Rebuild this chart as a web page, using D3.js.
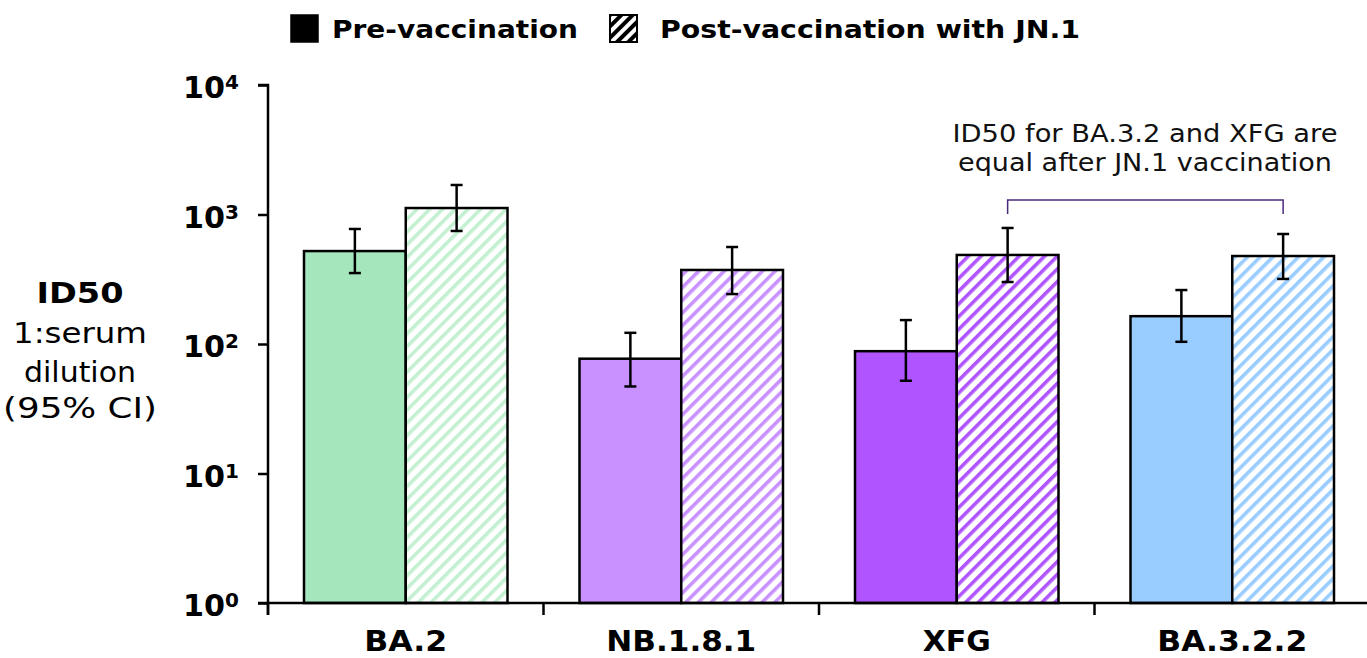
<!DOCTYPE html>
<html>
<head>
<meta charset="utf-8">
<script src="https://cdn.jsdelivr.net/npm/d3@7"></script>
<style>
  html, body { margin: 0; padding: 0; background: #fff; }
  svg { display: block; font-family: "DejaVu Sans", Verdana, sans-serif; }
</style>
</head>
<body>
<div id="chart"></div>
<script>
// ---- data ----
const variants    = ['BA.2', 'NB.1.8.1', 'XFG', 'BA.3.2.2'];
const colors      = ['#a6e6bc', '#c990ff', '#b054ff', '#99ccff'];
const hatchColors = ['#c4f0d2', '#c990ff', '#b054ff', '#99ccff'];
const preValues   = [522, 77, 88, 164];
const preLow      = [353, 47, 52, 104];
const preHigh     = [773, 122, 153, 261];
const postValues  = [1122, 373, 487, 478];
const postLow     = [746, 243, 301, 318];
const postHigh    = [1690, 561, 787, 707];
const yTicks      = [1, 10, 100, 1000, 10000];
const series      = ['Pre-vaccination', 'Post-vaccination with JN.1'];

const W = 1367, H = 658;
const margin = { top: 85, right: 0, bottom: 55, left: 268 };

const svg = d3.select('#chart').append('svg')
    .attr('width', W).attr('height', H);

// hatching patterns
const defs = svg.append('defs');
colors.forEach((c, i) => {
    const p = defs.append('pattern')
        .attr('id', 'hatch' + i)
        .attr('patternUnits', 'userSpaceOnUse')
        .attr('width', 9).attr('height', 9)
        .attr('patternTransform', 'rotate(45)');
    p.append('rect').attr('width', 9).attr('height', 9).attr('fill', '#fff');
    p.append('rect').attr('width', 3.6).attr('height', 9).attr('fill', hatchColors[i]);
});
const legendHatch = defs.append('pattern')
    .attr('id', 'hatchBlack')
    .attr('patternUnits', 'userSpaceOnUse')
    .attr('width', 8).attr('height', 8)
    .attr('patternTransform', 'rotate(45)');
legendHatch.append('rect').attr('width', 8).attr('height', 8).attr('fill', '#fff');
legendHatch.append('rect').attr('width', 4).attr('height', 8).attr('fill', '#000');

// scales
const x = d3.scaleBand()
    .domain(variants)
    .range([margin.left, margin.left + 4 * 275.5]);
const xSub = d3.scaleBand()
    .domain(['pre', 'post'])
    .range([36, x.bandwidth() - 36]);
const y = d3.scaleLog()
    .domain([1, 10000])
    .range([H - margin.bottom, margin.top]);

const g = svg.append('g');

// bars
const rows = variants.map((v, i) => ([
    { v, i, key: 'pre',  val: preValues[i],  lo: preLow[i],  hi: preHigh[i],  fill: colors[i] },
    { v, i, key: 'post', val: postValues[i], lo: postLow[i], hi: postHigh[i], fill: `url(#hatch${i})` }
])).flat();

g.selectAll('rect.bar')
    .data(rows)
    .join('rect')
    .attr('class', 'bar')
    .attr('x', d => x(d.v) + xSub(d.key))
    .attr('width', xSub.bandwidth())
    .attr('y', d => y(d.val))
    .attr('height', d => y(1) - y(d.val))
    .attr('fill', d => d.fill)
    .attr('stroke', '#000')
    .attr('stroke-width', 2.5);

// error bars
const eb = g.selectAll('g.err')
    .data(rows)
    .join('g')
    .attr('class', 'err')
    .attr('stroke', '#000')
    .attr('stroke-width', 2.5);
const cx = d => x(d.v) + xSub(d.key) + xSub.bandwidth() / 2;
eb.append('line')
    .attr('x1', cx).attr('x2', cx)
    .attr('y1', d => y(d.lo)).attr('y2', d => y(d.hi));
eb.append('line')
    .attr('x1', d => cx(d) - 6).attr('x2', d => cx(d) + 6)
    .attr('y1', d => y(d.lo)).attr('y2', d => y(d.lo));
eb.append('line')
    .attr('x1', d => cx(d) - 6).attr('x2', d => cx(d) + 6)
    .attr('y1', d => y(d.hi)).attr('y2', d => y(d.hi));

// y axis
const yAxis = svg.append('g')
    .attr('transform', `translate(${margin.left},0)`)
    .call(d3.axisLeft(y).tickValues(yTicks).tickSize(10).tickFormat(''));
yAxis.select('.domain').attr('d', `M-10,${y(10000)}H0V${y(1) + 12}`);
yAxis.selectAll('path, line').attr('stroke', '#000').attr('stroke-width', 2.5);

const yLab = svg.append('g').selectAll('text')
    .data(yTicks)
    .join('text')
    .attr('x', 183)
    .attr('y', d => y(d) + 13)
    .attr('font-size', 30)
    .attr('font-weight', 'bold')
    .attr('fill', '#000');
yLab.append('tspan').text('10')
    .attr('textLength', 42).attr('lengthAdjust', 'spacingAndGlyphs');
yLab.append('tspan')
    .attr('dy', -9)
    .attr('font-size', 20)
    .text(d => Math.round(Math.log10(d)));

// x axis
const xAxis = svg.append('g')
    .attr('transform', `translate(0,${y(1)})`)
    .call(d3.axisBottom(x).tickSize(0).tickFormat(''));
xAxis.select('.domain').attr('d', `M${margin.left - 10},0H${W}`);
xAxis.selectAll('path').attr('stroke', '#000').attr('stroke-width', 2.5);
xAxis.selectAll('line.sep')
    .data(variants)
    .join('line')
    .attr('class', 'sep')
    .attr('x1', d => x(d)).attr('x2', d => x(d))
    .attr('y1', 0).attr('y2', 12)
    .attr('stroke', '#000').attr('stroke-width', 2.5);
const xLabWidth = { 'BA.2': 83, 'NB.1.8.1': 150, 'XFG': 68, 'BA.3.2.2': 150 };
svg.append('g').selectAll('text')
    .data(variants)
    .join('text')
    .attr('x', d => x(d) + x.bandwidth() / 2)
    .attr('y', 651)
    .attr('text-anchor', 'middle')
    .attr('font-size', 28)
    .attr('font-weight', 'bold')
    .attr('fill', '#000')
    .attr('textLength', d => xLabWidth[d])
    .attr('lengthAdjust', 'spacingAndGlyphs')
    .text(d => d);

// y title
const yTitle = svg.append('g')
    .attr('font-size', 29)
    .attr('fill', '#000');
[['ID50', 303, 'bold', 87], ['1:serum', 343, 'normal', 134],
 ['dilution', 382, 'normal', 112], ['(95% CI)', 418, 'normal', 154]]
    .forEach(([t, yy, w, len]) => {
        yTitle.append('text')
            .attr('x', 80).attr('y', yy)
            .attr('text-anchor', 'middle')
            .attr('font-weight', w)
            .attr('textLength', len)
            .attr('lengthAdjust', 'spacingAndGlyphs')
            .text(t);
    });

// legend
const leg = svg.append('g').attr('font-size', 25).attr('font-weight', 'bold');
leg.append('rect').attr('x', 291).attr('y', 15).attr('width', 27).attr('height', 27)
    .attr('fill', '#000').attr('stroke', '#000').attr('stroke-width', 1.5);
leg.append('text').attr('x', 332).attr('y', 38)
    .attr('textLength', 246).attr('lengthAdjust', 'spacingAndGlyphs')
    .text(series[0]);
leg.append('rect').attr('x', 610).attr('y', 15).attr('width', 27).attr('height', 27)
    .attr('fill', 'url(#hatchBlack)').attr('stroke', '#000').attr('stroke-width', 2);
leg.append('text').attr('x', 660).attr('y', 38)
    .attr('textLength', 420).attr('lengthAdjust', 'spacingAndGlyphs')
    .text(series[1]);

// annotation
const ann = svg.append('g')
    .attr('font-size', 25)
    .attr('fill', '#111');
[['ID50 for BA.3.2 and XFG are', 142, 385], ['equal after JN.1 vaccination', 171, 374]]
    .forEach(([t, yy, len]) => {
        ann.append('text')
            .attr('x', 1145).attr('y', yy)
            .attr('text-anchor', 'middle')
            .attr('textLength', len)
            .attr('lengthAdjust', 'spacingAndGlyphs')
            .text(t);
    });

const bx1 = x('XFG') + xSub('post') + xSub.bandwidth() / 2;
const bx2 = x('BA.3.2.2') + xSub('post') + xSub.bandwidth() / 2;
svg.append('path')
    .attr('d', `M${bx1},214V200H${bx2}V214`)
    .attr('fill', 'none')
    .attr('stroke', '#4b2a7a')
    .attr('stroke-width', 1.5);
</script>
</body>
</html>
